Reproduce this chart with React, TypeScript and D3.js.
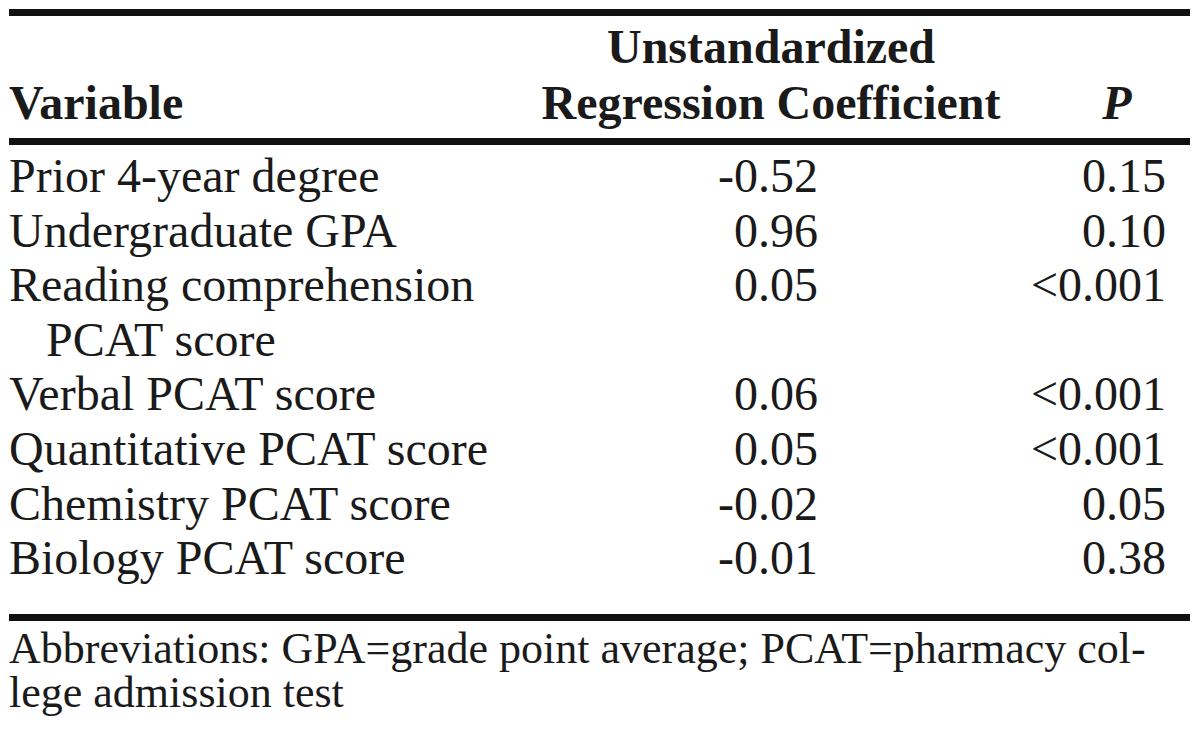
import React, { useEffect } from "react";
import * as d3 from "d3";

const variables: string[][] = [
  ["Prior 4-year degree"],
  ["Undergraduate GPA"],
  ["Reading comprehension", "PCAT score"],
  ["Verbal PCAT score"],
  ["Quantitative PCAT score"],
  ["Chemistry PCAT score"],
  ["Biology PCAT score"],
];
const coefficients: number[] = [-0.52, 0.96, 0.05, 0.06, 0.05, -0.02, -0.01];
const pValues: string[] = ["0.15", "0.10", "<0.001", "<0.001", "<0.001", "0.05", "0.38"];
const headerVariable = "Variable";
const headerCoef: string[] = ["Unstandardized", "Regression Coefficient"];
const headerP = "P";
const footnote: string[] = [
  "Abbreviations: GPA=grade point average; PCAT=pharmacy col-",
  "lege admission test",
];

const W = 1200;
const H = 735;
const FONT = "'Liberation Serif', 'Times New Roman', serif";

export default function App() {
  useEffect(() => {
    document.body.style.margin = "0";
  }, []);

  const fmt = d3
    .formatLocale({ decimal: ".", thousands: ",", grouping: [3], currency: ["", ""], minus: "-" })
    .format(".2f");

  // line index -> baseline
  const y = d3.scaleLinear().domain([0, 1]).range([192, 246.6]);
  const x = d3
    .scaleOrdinal<string, number>()
    .domain(["var", "indent", "coef", "p"])
    .range([9, 46, 818, 1166]);

  let line = 0;
  const rows = variables.map((v, i) => {
    const start = line;
    line += v.length;
    return { v, coef: coefficients[i], p: pValues[i], start };
  });

  const ruleX1 = 9;
  const ruleX2 = 1190;

  return (
    <svg width={W} height={H} style={{ display: "block", background: "#fff" }} fontFamily={FONT}>
      <rect x={0} y={0} width={W} height={H} fill="#fff" />
      <line x1={ruleX1} x2={ruleX2} y1={12.5} y2={12.5} stroke="#111" strokeWidth={7} />
      <line x1={ruleX1} x2={ruleX2} y1={141.5} y2={141.5} stroke="#111" strokeWidth={7} />
      <line x1={ruleX1} x2={ruleX2} y1={617.5} y2={617.5} stroke="#111" strokeWidth={7} />

      <g fill="#1a1a1a" fontWeight="bold" fontSize={48}>
        <text x={x("var")} y={119}>{headerVariable}</text>
        <text x={771} y={63} textAnchor="middle">{headerCoef[0]}</text>
        <text x={771} y={119} textAnchor="middle">{headerCoef[1]}</text>
        <text x={1117} y={119} textAnchor="middle" fontStyle="italic">{headerP}</text>
      </g>

      <g fill="#1a1a1a" fontSize={48}>
        {rows.map((r, i) => (
          <g key={i}>
            {r.v.map((t, j) => (
              <text key={j} x={j === 0 ? x("var") : x("indent")} y={y(r.start + j)}>{t}</text>
            ))}
            <text x={x("coef")} y={y(r.start)} textAnchor="end">{fmt(r.coef)}</text>
            <text x={x("p")} y={y(r.start)} textAnchor="end">{r.p}</text>
          </g>
        ))}
      </g>

      <g fill="#1a1a1a" fontSize={44}>
        <text x={9} y={663}>{footnote[0]}</text>
        <text x={9} y={707}>{footnote[1]}</text>
      </g>
    </svg>
  );
}
